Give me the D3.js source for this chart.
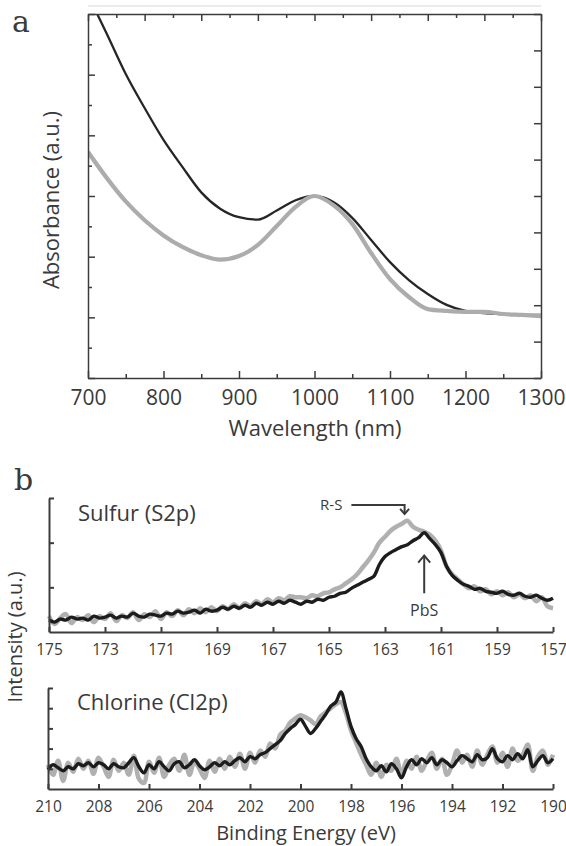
<!DOCTYPE html>
<html><head><meta charset="utf-8">
<script src="https://cdn.jsdelivr.net/npm/d3@7"></script>
<style>
body{margin:0;background:#fff}
svg{display:block}
text{font-family:"Open Sans",sans-serif;fill:#3a3a3a}
</style>
</head><body>
<svg id="c" width="566" height="846"></svg>
<script>
// ---------- Panel a: absorbance ----------
const absWavelength = [700,725,750,775,800,825,850,875,900,925,950,975,1000,1025,1050,1075,1100,1125,1150,1175,1200,1225,1250,1275,1300];
const absBlack = [12.63,11.34,10.02,8.90,7.85,6.96,6.12,5.58,5.30,5.22,5.52,5.86,6.00,5.80,5.28,4.55,3.82,3.23,2.77,2.41,2.21,2.14,2.11,2.08,2.08];
const absGray  = [7.45,6.59,5.82,5.20,4.70,4.32,4.05,3.90,4.02,4.39,5.01,5.64,6.00,5.70,5.08,4.12,3.26,2.67,2.27,2.21,2.18,2.18,2.11,2.08,2.04];
const absTicks = [700,800,900,1000,1100,1200,1300];

// ---------- Panel b: XPS sulfur (175 -> 157 eV, 0.2 eV steps) ----------
const sulfurStart = 175, sulfurStep = -0.2;
const sulfurBlack = [12,10,13,12,15,13,14,12,16,14, 15,17,14,16,15,19,16,15,18,17,
  16,19,18,21,19,20,22,19,23,21, 22,25,23,26,24,27,25,29,27,30, 28,31,29,32,30,28,31,30,33,32,
  35,36,39,40,44,47,50,53,56,68, 76,80,83,86,88,92,95,100,94,88, 80,66,57,52,48,46,43,44,41,40,
  39,41,38,37,39,36,35,37,34,32, 34];
const sulfurGray = [16,8,14,18,9,15,12,17,10,16, 13,19,11,17,14,20,12,18,15,21,
  13,20,16,22,17,23,19,24,20,25, 21,26,23,28,24,29,26,31,28,33, 30,34,32,36,35,35,34,37,36,39,
  40,43,45,49,53,58,65,72,80,90, 96,102,106,109,112,106,103,101,98,92, 82,66,58,53,48,44,46,41,43,38,
  41,37,40,35,38,34,37,31,35,26, 24];
const sulfurTicks = [175,173,171,169,167,165,163,161,159,157];

// ---------- Panel b: XPS chlorine (210 -> 190 eV, 0.2 eV steps) ----------
const chlorineStart = 210, chlorineStep = -0.2;
const chlorineBlack = [19,24,21,18,22,20,25,23,26,22, 26,24,20,25,22,21,26,31,22,16,
  24,20,27,22,18,25,27,21,24,29, 23,19,22,26,23,27,24,28,31,27, 32,30,34,36,40,44,48,55,60,64,
  69,62,55,60,67,74,82,86,96,80, 62,50,42,30,22,18,23,17,25,20, 11,22,29,24,30,26,31,24,29,26,
  22,28,33,30,27,34,29,31,40,30, 27,33,29,35,30,39,22,28,33,26, 30];
const chlorineGray = [24,14,28,8,26,17,30,20,28,15, 31,22,12,29,18,26,14,33,10,6,
  27,16,31,12,24,30,18,34,14,27, 20,11,28,17,30,20,32,22,35,20, 36,26,38,32,45,40,54,58,66,70,
  73,71,68,64,72,76,80,84,86,75, 58,46,34,24,14,26,12,24,18,30, 14,28,20,32,18,28,36,20,30,14,
  24,38,26,34,22,38,24,34,42,26, 36,22,40,28,34,44,18,32,38,24, 34];
const chlorineTicks = [210,208,206,204,202,200,198,196,194,192,190];

// annotations (energy, intensity)
const annRS = {label:"R-S", tipE:162.3, tipI:119, fromE:164.2};
const annPbS = {label:"PbS", e:161.6, topI:77, botI:39};

const svg = d3.select("#c");
const axisColor = "#3c3c3c";

// =============== Panel a ===============
const ax = d3.scaleLinear().domain([700,1300]).range([88,541]);
const ay = d3.scaleLinear().domain([0,12]).range([378,14]);
const gA = svg.append("g");

gA.append("line").attr("x1",88).attr("x2",541).attr("y1",6).attr("y2",6)
  .attr("stroke","#e4e4e4").attr("stroke-width",1.5);

gA.append("clipPath").attr("id","clipA").append("rect")
  .attr("x",88).attr("y",14).attr("width",453).attr("height",364);

const lineA = d3.line().x((d,i)=>ax(absWavelength[i])).y(d=>ay(d)).curve(d3.curveMonotoneX);
const curves = gA.append("g").attr("clip-path","url(#clipA)");
curves.append("path").attr("d",lineA(absBlack)).attr("fill","none").attr("stroke","#262626").attr("stroke-width",2.3);
curves.append("path").attr("d",lineA(absGray)).attr("fill","none").attr("stroke","#acacac").attr("stroke-width",4.2);

function styleAxis(g, w){
  g.selectAll("path,line").attr("stroke",axisColor).attr("stroke-width",w);
  g.selectAll("text").attr("fill","#3a3a3a").attr("font-family","'Open Sans',sans-serif");
}
// bottom
const aB = gA.append("g").attr("transform","translate(0,378)")
  .call(d3.axisBottom(ax).tickValues(absTicks).tickSize(-7).tickSizeOuter(0).tickPadding(12).tickFormat(d3.format("d")));
aB.selectAll("text").attr("font-size",21);
styleAxis(aB,1.5);
const aBm = gA.append("g").attr("transform","translate(0,378)")
  .call(d3.axisBottom(ax).tickValues(d3.range(750,1300,100)).tickSize(-4).tickSizeOuter(0).tickFormat(""));
aBm.select(".domain").remove(); styleAxis(aBm,1.5);
// left
const aL = gA.append("g").attr("transform","translate(88,0)")
  .call(d3.axisLeft(ay).tickValues(d3.range(0,13,2)).tickSize(-7).tickSizeOuter(0).tickFormat(""));
styleAxis(aL,1.5);
const aLm = gA.append("g").attr("transform","translate(88,0)")
  .call(d3.axisLeft(ay).tickValues(d3.range(1,12,2)).tickSize(-4).tickSizeOuter(0).tickFormat(""));
aLm.select(".domain").remove(); styleAxis(aLm,1.5);
// top (secondary, 16 divisions)
const tx = d3.scaleLinear().domain([0,16]).range([88,541]);
const aT = gA.append("g").attr("transform","translate(0,14)")
  .call(d3.axisTop(tx).tickValues(d3.range(0,17,2)).tickSize(-7).tickSizeOuter(0).tickFormat(""));
styleAxis(aT,1.5);
const aTm = gA.append("g").attr("transform","translate(0,14)")
  .call(d3.axisTop(tx).tickValues(d3.range(1,16,2)).tickSize(-4).tickSizeOuter(0).tickFormat(""));
aTm.select(".domain").remove(); styleAxis(aTm,1.5);
// right (secondary, 10 divisions)
const ry = d3.scaleLinear().domain([0,10]).range([378,14]);
const aR = gA.append("g").attr("transform","translate(541,0)")
  .call(d3.axisRight(ry).tickValues(d3.range(0,11,1)).tickSize(-7).tickSizeOuter(0).tickFormat(""));
styleAxis(aR,1.5);

gA.append("text").attr("x",315).attr("y",436).attr("text-anchor","middle").attr("font-size",22).text("Wavelength (nm)");
gA.append("text").attr("transform","translate(59,200) rotate(-90)").attr("text-anchor","middle").attr("font-size",22).text("Absorbance (a.u.)");
svg.append("text").attr("x",12).attr("y",32).attr("font-size",30).style("font-family","'DejaVu Serif',serif").attr("fill","#333").text("a");
svg.append("text").attr("x",14).attr("y",490).attr("font-size",30).style("font-family","'DejaVu Serif',serif").attr("fill","#333").text("b");

// =============== Panel b ===============
function xpsPanel(opts){
  const x = d3.scaleLinear().domain(opts.xDomain).range([opts.x0,opts.x1]);
  const y = d3.scaleLinear().domain(opts.yDomain).range([opts.y0,opts.y1]);
  const g = svg.append("g");
  const line = d3.line().x((d,i)=>x(opts.start+opts.step*i)).y(d=>y(d)).curve(d3.curveCatmullRom.alpha(0.5));
  g.append("path").attr("d",line(opts.gray)).attr("fill","none").attr("stroke","#b0b0b0").attr("stroke-width",4.5).attr("stroke-linejoin","round");
  g.append("path").attr("d",line(opts.black)).attr("fill","none").attr("stroke","#1c1c1c").attr("stroke-width",3.4).attr("stroke-linejoin","round");
  const b = g.append("g").attr("transform",`translate(0,${opts.y0})`)
    .call(d3.axisBottom(x).tickValues(opts.ticks).tickSize(-5).tickSizeOuter(0).tickPadding(12).tickFormat(d3.format("d")));
  b.selectAll("text").attr("font-size",15.5);
  styleAxis(b,2);
  const l = g.append("g").attr("transform",`translate(${opts.x0},0)`)
    .call(d3.axisLeft(y).tickValues(opts.yTicks).tickSize(-5).tickSizeOuter(0).tickFormat(""));
  styleAxis(l,2);
  g.append("text").attr("x",opts.x0+29).attr("y",opts.titleY).attr("font-size",22).attr("fill","#3a3a3a").text(opts.title);
  return {x,y,g};
}

const S = xpsPanel({xDomain:[175,157], x0:49, x1:553, yDomain:[0,135], y0:632, y1:498,
  start:sulfurStart, step:sulfurStep, black:sulfurBlack, gray:sulfurGray, ticks:sulfurTicks,
  yTicks:[45,90,135], title:"Sulfur (S2p)", titleY:521});

const C = xpsPanel({xDomain:[210,190], x0:48, x1:553, yDomain:[0,100], y0:789, y1:688,
  start:chlorineStart, step:chlorineStep, black:chlorineBlack, gray:chlorineGray, ticks:chlorineTicks,
  yTicks:[20,40,60,80,100], title:"Chlorine (Cl2p)", titleY:710});

// annotations
const ac = "#3a3a3a";
{
  const tx1 = S.x(annRS.tipE), ty1 = S.y(annRS.tipI), fx = S.x(annRS.fromE);
  S.g.append("path").attr("d",`M${fx},${ty1-9} H${tx1} V${ty1}`).attr("fill","none").attr("stroke",ac).attr("stroke-width",2);
  S.g.append("path").attr("d",`M${tx1-4.5},${ty1-5} L${tx1},${ty1} L${tx1+4.5},${ty1-5}`).attr("fill","none").attr("stroke",ac).attr("stroke-width",2);
  S.g.append("text").attr("x",fx-9).attr("y",ty1-4).attr("text-anchor","end").attr("font-size",15).text(annRS.label);

  const px = S.x(annPbS.e), pt = S.y(annPbS.topI), pb = S.y(annPbS.botI);
  S.g.append("path").attr("d",`M${px},${pb} V${pt}`).attr("stroke",ac).attr("stroke-width",2);
  S.g.append("path").attr("d",`M${px-6},${pt+7} L${px},${pt} L${px+6},${pt+7}`).attr("fill","none").attr("stroke",ac).attr("stroke-width",2);
  S.g.append("text").attr("x",px).attr("y",pb+23).attr("text-anchor","middle").attr("font-size",16).text(annPbS.label);
}

svg.append("text").attr("x",306).attr("y",840).attr("text-anchor","middle").attr("font-size",20).text("Binding Energy (eV)");
svg.append("text").attr("transform","translate(22,637) rotate(-90)").attr("text-anchor","middle").attr("font-size",20).text("Intensity (a.u.)");
</script>
</body></html>
